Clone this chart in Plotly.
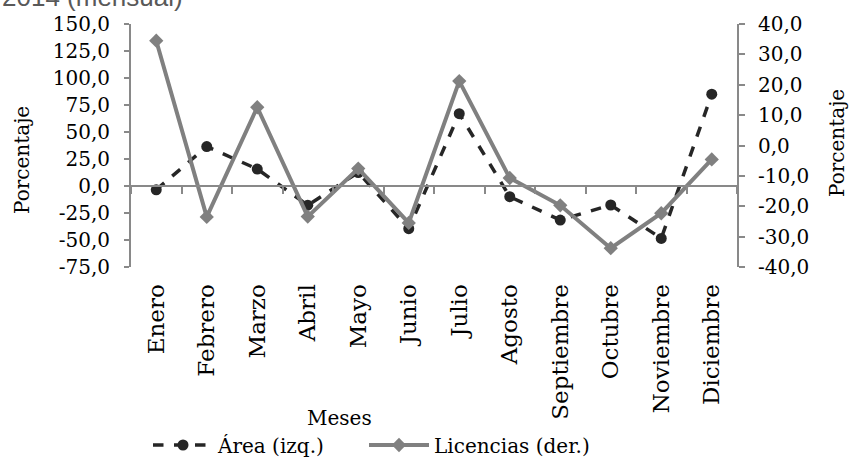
import plotly.graph_objects as go

meses = ["Enero", "Febrero", "Marzo", "Abril", "Mayo", "Junio", "Julio",
         "Agosto", "Septiembre", "Octubre", "Noviembre", "Diciembre"]
area = [-3.5, 36.5, 15.7, -17.8, 12.5, -39.5, 67.0, -9.9, -31.5, -17.6, -48.5, 85.0]
licencias = [34.5, -23.5, 12.6, -23.4, -7.6, -25.5, 21.2, -10.7, -19.7, -33.8, -22.3, -4.6]

left_ticks = [-75, -50, -25, 0, 25, 50, 75, 100, 125, 150]
left_text = ["-75,0", "-50,0", "-25,0", "0,0", "25,0", "50,0", "75,0", "100,0", "125,0", "150,0"]
right_ticks = [-40, -30, -20, -10, 0, 10, 20, 30, 40]
right_text = ["-40,0", "-30,0", "-20,0", "-10,0", "0,0", "10,0", "20,0", "30,0", "40,0"]

FONT = "DejaVu Serif"
AXC = "#898989"
W, H = 851, 459
L, R, T, B = 131, 114, 24, 192
PW = W - L - R
PH = H - T - B

def px_x(p):
    return (p - L) / PW

def px_y(p):
    return (H - B - p) / PH

fig = go.Figure()
fig.add_trace(go.Scatter(
    x=meses, y=area, name="Área (izq.)", mode="lines+markers",
    line=dict(color="#262626", width=3.5, dash="dash"),
    marker=dict(symbol="circle", size=11, color="#262626"),
    xaxis="x", yaxis="y", legend="legend"))
fig.add_trace(go.Scatter(
    x=meses, y=licencias, name="Licencias (der.)", mode="lines+markers",
    line=dict(color="#808080", width=4),
    marker=dict(symbol="diamond", size=11, color="#808080"),
    xaxis="x2", yaxis="y2", legend="legend2"))

fig.update_layout(
    width=W, height=H,
    margin=dict(l=L, r=R, t=T, b=B, autoexpand=False),
    paper_bgcolor="white", plot_bgcolor="white",
    font=dict(family=FONT, size=20, color="#000000"),
    showlegend=True,
    xaxis=dict(type="category", categoryorder="array", categoryarray=meses,
               range=[-0.5, 11.5], showline=False, showgrid=False, zeroline=False,
               tickangle=-90, ticks="outside", ticklen=7, tickcolor="rgba(0,0,0,0)",
               tickfont=dict(family=FONT, size=23), anchor="y"),
    xaxis2=dict(type="category", categoryorder="array", categoryarray=meses,
                range=[-0.5, 11.5], overlaying="x", anchor="free", position=1/3,
                showline=True, linecolor=AXC, linewidth=2, showgrid=False, zeroline=False,
                ticks="outside", ticklen=7, tickwidth=2, tickcolor=AXC,
                tickson="boundaries", showticklabels=False),
    yaxis=dict(range=[-75, 150], tickvals=left_ticks, ticktext=left_text,
               showline=True, linecolor=AXC, linewidth=2, showgrid=False, zeroline=False,
               ticks="outside", ticklen=5, tickwidth=2, tickcolor=AXC,
               ticklabelstandoff=10,
               tickfont=dict(family=FONT, size=20), anchor="x"),
    yaxis2=dict(range=[-40, 40], tickvals=right_ticks, ticktext=right_text,
                overlaying="y", side="right", anchor="x2",
                showline=True, linecolor=AXC, linewidth=2, showgrid=False, zeroline=False,
                ticks="outside", ticklen=6, tickwidth=2, tickcolor=AXC,
                ticklabelstandoff=9,
                tickfont=dict(family=FONT, size=20)),
    legend=dict(orientation="h", x=px_x(148), y=px_y(445), xanchor="left", yanchor="middle",
                font=dict(family=FONT, size=20), bgcolor="rgba(0,0,0,0)", itemwidth=60),
    legend2=dict(orientation="h", x=px_x(364), y=px_y(445), xanchor="left", yanchor="middle",
                 font=dict(family=FONT, size=20), bgcolor="rgba(0,0,0,0)", itemwidth=60),
    annotations=[
        dict(text="Porcentaje", x=px_x(22), y=px_y(160), xref="paper", yref="paper",
             xanchor="center", yanchor="middle",
             textangle=-90, showarrow=False, font=dict(family=FONT, size=20)),
        dict(text="Porcentaje", x=px_x(837), y=px_y(143), xref="paper", yref="paper",
             xanchor="center", yanchor="middle",
             textangle=-90, showarrow=False, font=dict(family=FONT, size=20)),
        dict(text="Meses", x=px_x(339), y=px_y(418), xref="paper", yref="paper",
             xanchor="center", yanchor="middle",
             showarrow=False, font=dict(family=FONT, size=20)),
        dict(text="2014 (mensual)", x=px_x(0), y=px_y(14), xref="paper", yref="paper",
             xanchor="left", yanchor="bottom", showarrow=False,
             font=dict(family="Liberation Sans", size=26, color="#595959")),
    ],
)

fig.write_html("out.html", config={"displayModeBar": False},
               post_script="document.body.style.margin='0';")
